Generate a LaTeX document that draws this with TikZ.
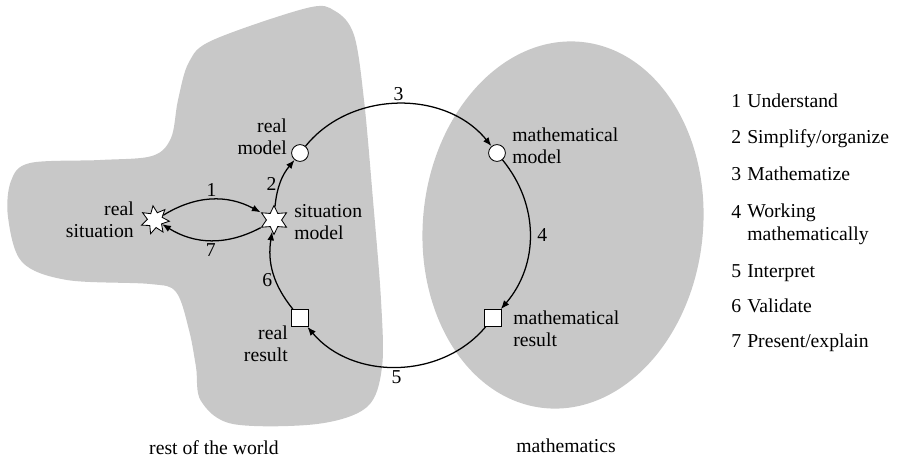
\documentclass[tikz,border=0pt]{standalone}
\usepackage{fontspec}
\setmainfont{Liberation Serif}
\usetikzlibrary{arrows.meta,shapes.geometric,backgrounds}
\definecolor{regiongray}{RGB}{200,200,200}
\tikzset{
  region/.style={fill=regiongray,draw=none},
  cycleedge/.style={-{Latex[length=2.2mm,width=1.7mm]},line width=.9pt,
    draw=black},
  numlabel/.style={inner sep=2pt}}

\begin{document}
\begin{tikzpicture}[x=0.025cm,y=-0.025cm,
  font=\fontsize{14}{16}\selectfont,
  starstate/.style={star,star point ratio=1.9,minimum size=0.72cm,
    inner sep=0pt,draw,fill=white,line width=.6pt},
  modelstate/.style={circle,draw,fill=white,minimum size=0.42cm,
    inner sep=0pt,line width=.6pt},
  resultstate/.style={rectangle,draw,fill=white,minimum size=0.42cm,
    inner sep=0pt,line width=.6pt},
  statelabel/.style={align=left,inner sep=0pt},
  legendnum/.style={anchor=base west,inner sep=0pt},
  legendtext/.style={anchor=base west,inner sep=0pt,align=left}]

  \useasboundingbox (0,0) rectangle (899,461);

  % regions
  \fill[region] plot[smooth cycle,tension=0.55] coordinates {
    (213,40) (307,8) (335,11) (354,35) (364,100) (373,200) (381,300)
    (382,367) (367,407) (317,424) (233,424) (201,401) (196,367)
    (189,330) (176,292) (150,284) (67,280) (22,262) (8,217) (11,181)
    (30,163) (100,160) (152,156) (171,138) (178,100) (189,62)};
  \fill[region,rotate around={-6:(563,225)}] (563,225) ellipse (140 and 184);

  \node (world) at (214,448) {rest of the world};
  \node (maths) at (566,446) {mathematics};

  % states
  \node[starstate,star points=7,rotate=8] (rs) at (155,220) {};
  \node[starstate,star points=6] (sm) at (274,220) {};
  \node[modelstate] (rm) at (300,153) {};
  \node[modelstate] (mm) at (497,153) {};
  \node[resultstate] (mr) at (493,318) {};
  \node[resultstate] (rr) at (300,318) {};

  \node[statelabel,align=right,anchor=east] (rslabel) at (134,220)
    {real\\situation};
  \node[statelabel,anchor=west] (smlabel) at (294,222)
    {situation\\model};
  \node[statelabel,align=right,anchor=east] (rmlabel) at (287,137)
    {real\\model};
  \node[statelabel,anchor=west] (mmlabel) at (512,146)
    {mathematical\\model};
  \node[statelabel,anchor=west] (mrlabel) at (513,329)
    {mathematical\\result};
  \node[statelabel,align=right,anchor=east] (rrlabel) at (288,344)
    {real\\result};

  % cycle
  \draw[cycleedge] (rs) to[bend left=30]
    node[numlabel,above] {1} (sm);
  \draw[cycleedge] (sm) to[bend left=30]
    node[numlabel,below] {7} (rs);
  \draw[cycleedge] (sm) to[bend left=17]
    node[numlabel,left,pos=.45] {2} (rm);
  \draw[cycleedge] (rm) to[bend left=51]
    node[numlabel,above] {3} (mm);
  \draw[cycleedge] (mm) to[bend left=40]
    node[numlabel,right,inner sep=5pt] {4} (mr);
  \draw[cycleedge] (mr) to[bend left=50]
    node[numlabel,below] {5} (rr);
  \draw[cycleedge] (rr) to[bend left=24]
    node[numlabel,left,pos=.4] {6} (sm);

  % legend (a multi-line node sits on its last baseline)
  \node[legendnum] (n1) at (731,107) {1};
  \node[legendtext] (t1) at (747,107) {Understand};
  \node[legendnum] (n2) at (731,143) {2};
  \node[legendtext] (t2) at (747,143) {Simplify/organize};
  \node[legendnum] (n3) at (731,180) {3};
  \node[legendtext] (t3) at (747,180) {Mathematize};
  \node[legendnum] (n4) at (731,218) {4};
  \node[legendtext] (t4) at (747,240) {Working\\mathematically};
  \node[legendnum] (n5) at (731,277) {5};
  \node[legendtext] (t5) at (747,277) {Interpret};
  \node[legendnum] (n6) at (731,312) {6};
  \node[legendtext] (t6) at (747,312) {Validate};
  \node[legendnum] (n7) at (731,347) {7};
  \node[legendtext] (t7) at (747,347) {Present/explain};
\end{tikzpicture}
\end{document}
